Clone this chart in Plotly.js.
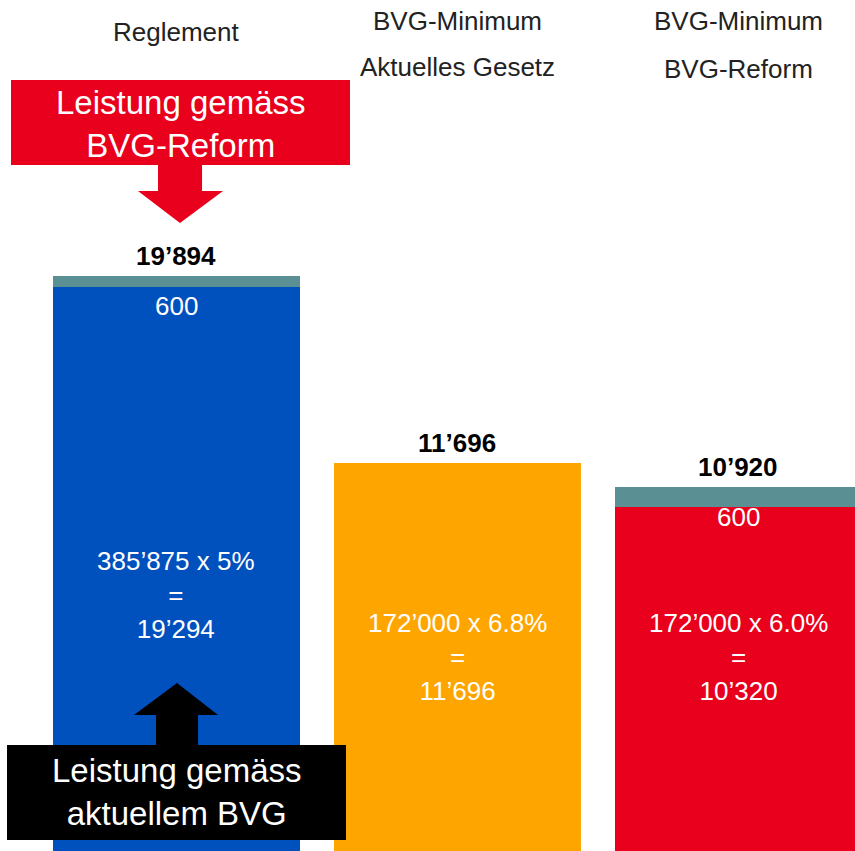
<!DOCTYPE html>
<html>
<head>
<meta charset="utf-8">
<script src="https://cdn.plot.ly/plotly-3.0.1.min.js"></script>
<style>
  html, body { margin: 0; padding: 0; background: #fff; }
  #chart { width: 855px; height: 851px; }
</style>
</head>
<body>
<div id="chart"></div>
<script>
// categories (columns)
let kategorien = ["Reglement", "BVG-Minimum Aktuelles Gesetz", "BVG-Minimum BVG-Reform"]
let kopfZeile1 = ["", "BVG-Minimum", "BVG-Minimum"]
let kopfZeile2 = ["Reglement", "Aktuelles Gesetz", "BVG-Reform"]

// rente aus altersguthaben x umwandlungssatz
let altersguthaben = [385875, 172000, 172000]
let umwandlungssatz = ["5%", "6.8%", "6.0%"]
let rente = [19294, 11696, 10320]
// zuschlag gemaess reform
let zuschlag = [600, 0, 600]

let farben = ["#0050BE", "#FFA500", "#E8001C"]
let teal = "#5A8F93"
let schrift = "Liberation Sans, Arial, sans-serif"

// swiss number format 19'894
function fmt(v) {
  return String(Math.round(v)).replace(/\B(?=(\d{3})+(?!\d))/g, "\u2019")
}

let total = []
for (let i = 0; i < rente.length; i++) {
  total.push(rente[i] + zuschlag[i])
}

let trace1 = {
  x: kategorien,
  y: rente,
  type: "bar",
  marker: { color: farben },
  hoverinfo: "none"
}

let trace2 = {
  x: kategorien,
  y: zuschlag,
  type: "bar",
  marker: { color: teal },
  hoverinfo: "none"
}

// pixel -> paper helpers for the decorations
let W = 855, H = 851
function px(x) { return x / W }
function py(y) { return 1 - y / H }
function pfad(pts) {
  return "M " + pts.map(p => px(p[0]).toFixed(4) + "," + py(p[1]).toFixed(4)).join(" L ") + " Z"
}

let annotations = []
let formelY = [595, 657, 657]
let kopf1Y = [-15, 21, 21]
let kopf2Y = [32, 67, 69]
for (let i = 0; i < kategorien.length; i++) {
  // total above bar
  annotations.push({
    x: kategorien[i], xref: "x", y: Math.log10(total[i]), yref: "y",
    text: "<b>" + fmt(total[i]) + "</b>", showarrow: false,
    xanchor: "center", yanchor: "bottom", yshift: 3,
    font: { color: "#000000", size: 26, family: schrift }
  })
  // zuschlag label just under the bar top
  if (zuschlag[i]) {
    annotations.push({
      x: kategorien[i], xref: "x", y: Math.log10(total[i]), yref: "y",
      text: fmt(zuschlag[i]), showarrow: false,
      xanchor: "center", yanchor: "middle", yshift: -30,
      font: { color: "#ffffff", size: 26, family: schrift }
    })
  }
  annotations.push({
    x: kategorien[i], xref: "x", y: py(formelY[i]), yref: "paper",
    text: fmt(altersguthaben[i]) + " x " + umwandlungssatz[i] + "<br>=<br>" + fmt(rente[i]),
    showarrow: false, xanchor: "center", yanchor: "middle",
    font: { color: "#ffffff", size: 26, family: schrift }
  })
  if (kopfZeile1[i]) {
    annotations.push({
      x: kategorien[i], xref: "x", y: py(kopf1Y[i]), yref: "paper",
      text: kopfZeile1[i], showarrow: false, xanchor: "center", yanchor: "middle",
      font: { color: "#222222", size: 26, family: schrift }
    })
  }
  annotations.push({
    x: kategorien[i], xref: "x", y: py(kopf2Y[i]), yref: "paper",
    text: kopfZeile2[i], showarrow: false, xanchor: "center", yanchor: "middle",
    font: { color: "#222222", size: 26, family: schrift }
  })
}
annotations.push({
  x: px(180), xref: "paper", y: py(124), yref: "paper",
  text: "Leistung gemäss<br>BVG-Reform", showarrow: false,
  xanchor: "center", yanchor: "middle",
  font: { color: "#ffffff", size: 33, family: schrift }
})
annotations.push({
  x: px(176), xref: "paper", y: py(792), yref: "paper",
  text: "Leistung gemäss<br>aktuellem BVG", showarrow: false,
  xanchor: "center", yanchor: "middle",
  font: { color: "#ffffff", size: 33, family: schrift }
})

let shapes = [
  { type: "rect", xref: "paper", yref: "paper", x0: px(11), x1: px(350), y0: py(165), y1: py(80),
    fillcolor: "#E8001C", line: { width: 0 } },
  { type: "path", xref: "paper", yref: "paper", fillcolor: "#E8001C", line: { width: 0 },
    path: pfad([[158, 164], [202, 164], [202, 191], [223, 191], [180, 223], [138, 191], [158, 191]]) },
  { type: "rect", xref: "paper", yref: "paper", x0: px(7), x1: px(346), y0: py(840), y1: py(745),
    fillcolor: "#000000", line: { width: 0 } },
  { type: "path", xref: "paper", yref: "paper", fillcolor: "#000000", line: { width: 0 },
    path: pfad([[156, 746], [198, 746], [198, 715], [218, 715], [177, 683], [134, 715], [156, 715]]) }
]

let layout = {
  width: 855,
  height: 851,
  margin: { l: 0, r: 0, t: 0, b: 0 },
  paper_bgcolor: "#ffffff",
  plot_bgcolor: "#ffffff",
  barmode: "stack",
  bargap: 0.12,
  showlegend: false,
  xaxis: { range: [-0.628, 2.415], visible: false, fixedrange: true },
  yaxis: { type: "log", range: [3.5895, 4.639], visible: false, fixedrange: true },
  annotations: annotations,
  shapes: shapes
}

Plotly.newPlot("chart", [trace1, trace2], layout, { displayModeBar: false, staticPlot: true })
</script>
</body>
</html>
